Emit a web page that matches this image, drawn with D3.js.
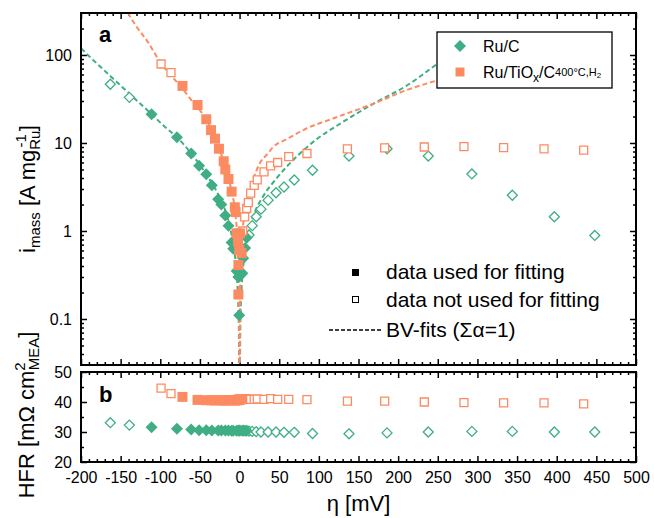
<!DOCTYPE html>
<html><head><meta charset="utf-8">
<script src="https://cdn.jsdelivr.net/npm/d3@7"></script>
<style>body{margin:0;background:#fff} svg{display:block} text{font-family:"Liberation Sans",Arial,sans-serif}</style>
</head><body><svg id="c" width="654" height="518"></svg>
<script>
// ---------- DATA ----------
const seriesNames = ["Ru/C", "Ru/TiOx/C"];
// Ru/C : data used for fitting
const etaRuCUsed = [-111,-79,-61,-51,-42,-35,-27,-23,-18,-14,-10,-8,-3.7,-1.6,-0.5,0.5,3.5,4.6,7,9];
const iRuCUsed   = [21.2,11.6,7.6,5.5,4.4,3.3,2.3,2.0,1.5,1.15,0.74,0.63,0.35,0.30,0.11,0.31,0.33,0.49,0.64,0.84];
const hfrRuCUsed = [31.6,31.1,30.8,30.6,30.6,30.5,30.5,30.5,30.5,30.5,30.4,30.4,30.4,30.5,30.4,30.5,30.4,30.5,30.4,30.4];
// Ru/C : data not used for fitting
const etaRuCOpen = [-163,-139,12,16,21,27,36,46,56,69,92,138,186,238,293,344,397,448];
const iRuCOpen   = [46.5,33,0.9,1.15,1.45,1.77,2.24,2.72,3.16,3.8,4.9,7.1,8.6,7.1,4.45,2.55,1.45,0.89];
const hfrRuCOpen = [33.1,32.3,30.3,30.2,30.1,30.0,30.0,30.0,29.9,29.9,29.5,29.4,29.7,30.0,30.2,30.2,30.0,30.0];
// Ru/TiOx/C : data used for fitting
const etaTiUsed = [-72,-53,-42,-36,-31,-26,-20,-18,-14,-10,-6,-5,-3.7,-2,-1.5,-1.5,-0.5,0.5,2.5];
const iTiUsed   = [44.5,27,18.6,14,11.2,8.6,6.2,5.0,3.9,2.8,1.86,1.64,0.94,0.76,0.41,0.19,0.61,0.94,0.56];
const hfrTiUsed = [41.7,40.7,40.6,40.6,40.5,40.6,40.5,40.5,40.6,40.6,40.5,40.6,40.6,40.7,40.8,40.6,40.7,40.9,40.9];
// Ru/TiOx/C : data not used for fitting
const etaTiOpen = [-99,-86.5,4,6.5,9,11,14,18.5,22.3,30.8,39.2,48,62,85,136,183,233,283,333,384,434];
const iTiOpen   = [79,63,1.0,1.45,1.8,2.1,2.7,3.3,3.8,4.7,5.5,6.0,7.0,7.6,8.55,8.8,9.0,9.1,8.85,8.55,8.3];
const hfrTiOpen = [44.6,42.8,41.0,41.0,41.0,40.9,40.9,40.9,41.0,40.9,41.1,40.9,40.9,40.8,40.3,40.3,40.0,39.8,39.7,39.7,39.4];
// BV fit curves
const etaFitRuC = [-200,-180,-162,-137,-112,-95,-79,-61,-50,-35,-25,-15,-10,-5,-2,-1,-0.3,0.3,1,2,5,10,20,30,47,72,97,127,169,211,248];
const iFitRuC   = [119,80,56.6,35,21.7,15.5,11.6,7.6,5.6,3.5,2.4,1.4,0.9,0.44,0.17,0.085,0.025,0.025,0.085,0.17,0.43,0.85,1.7,2.5,4.0,7.0,11,16.6,28,45,78];
const etaFitTi  = [-146,-130,-116,-99,-86,-74,-60,-44.5,-36,-26,-18,-10,-5,-2,-1,-0.1,0.1,1,2,4,7,10,17,26,34,43,59,85,118,169,211,248];
const iFitTi    = [360,210,142,80,58,43.6,30,20,14.5,8.8,5.4,2.8,1.5,0.6,0.3,0.028,0.028,0.28,0.55,1.05,1.65,2.3,3.8,6.0,7.3,9.1,11,14.7,19,28,40,51];
// ticks
const xTickValues = [-200,-150,-100,-50,0,50,100,150,200,250,300,350,400,450,500];
const xTickLabels = ["-200","-150","-100","-50","0","50","100","150","200","250","300","350","400","450","500"];
const yTopTickValues = [0.1,1,10,100];
const yTopTickLabels = ["0.1","1","10","100"];
const yBotTickValues = [20,30,40,50];
const yBotTickLabels = ["20","30","40","50"];

// ---------- STYLE ----------
const green = "#3fae84", orange = "#fd8b62";
const L = 81, R = 636, T1 = 13, B1 = 365, T2 = 372, B2 = 462;

const svg = d3.select("#c");
const x = d3.scaleLinear([-200, 500], [L, R]);
const yTop = d3.scaleLog([0.03, 300], [B1, T1]);
const yBot = d3.scaleLinear([20, 50], [B2, T2]);

const xMinor = d3.range(-200, 501, 10).filter(v => v % 50 !== 0);
const yTopMinor = [];
for (let k = -2; k <= 2; k++) for (let m = 2; m <= 9; m++) { const v = m * Math.pow(10, k); if (v > 0.03 && v < 300) yTopMinor.push(v); }
const yBotMinor = [25, 35, 45];

const diamond = { draw(ctx, size) { const r = Math.sqrt(size / 2); ctx.moveTo(0, -r); ctx.lineTo(r, 0); ctx.lineTo(0, r); ctx.lineTo(-r, 0); ctx.closePath(); } };

function styleAxis(g, fontSize) {
  g.select(".domain").remove();
  g.selectAll("line").attr("stroke", "#000").attr("stroke-width", 1.5);
  g.selectAll("text").attr("font-size", fontSize).attr("fill", "#000").attr("font-family", '"Liberation Sans",Arial,sans-serif');
}
function addAxis(axis, tx, ty, fs) {
  const g = svg.append("g").attr("transform", `translate(${tx},${ty})`).call(axis);
  styleAxis(g, fs || 16);
  return g;
}
// Top panel axes
addAxis(d3.axisLeft(yTop).tickValues(yTopTickValues).tickFormat((d, i) => yTopTickLabels[i]).tickSizeInner(-6).tickSizeOuter(0).tickPadding(9), L, 0);
addAxis(d3.axisLeft(yTop).tickValues(yTopMinor).tickFormat("").tickSizeInner(-3).tickSizeOuter(0), L, 0);
addAxis(d3.axisRight(yTop).tickValues(yTopTickValues).tickFormat("").tickSizeInner(-6).tickSizeOuter(0), R, 0);
addAxis(d3.axisRight(yTop).tickValues(yTopMinor).tickFormat("").tickSizeInner(-3).tickSizeOuter(0), R, 0);
addAxis(d3.axisTop(x).tickValues(xTickValues).tickFormat("").tickSizeInner(-6).tickSizeOuter(0), 0, T1);
addAxis(d3.axisTop(x).tickValues(xMinor).tickFormat("").tickSizeInner(-3).tickSizeOuter(0), 0, T1);
addAxis(d3.axisBottom(x).tickValues(xTickValues).tickFormat("").tickSizeInner(-6).tickSizeOuter(0), 0, B1);
addAxis(d3.axisBottom(x).tickValues(xMinor).tickFormat("").tickSizeInner(-3).tickSizeOuter(0), 0, B1);
// Bottom panel axes
addAxis(d3.axisLeft(yBot).tickValues(yBotTickValues).tickFormat((d, i) => yBotTickLabels[i]).tickSizeInner(-6).tickSizeOuter(0).tickPadding(9), L, 0);
addAxis(d3.axisLeft(yBot).tickValues(yBotMinor).tickFormat("").tickSizeInner(-3).tickSizeOuter(0), L, 0);
addAxis(d3.axisRight(yBot).tickValues(yBotTickValues).tickFormat("").tickSizeInner(-6).tickSizeOuter(0), R, 0);
addAxis(d3.axisRight(yBot).tickValues(yBotMinor).tickFormat("").tickSizeInner(-3).tickSizeOuter(0), R, 0);
addAxis(d3.axisTop(x).tickValues(xTickValues).tickFormat("").tickSizeInner(-6).tickSizeOuter(0), 0, T2);
addAxis(d3.axisTop(x).tickValues(xMinor).tickFormat("").tickSizeInner(-3).tickSizeOuter(0), 0, T2);
addAxis(d3.axisBottom(x).tickValues(xTickValues).tickFormat((d, i) => xTickLabels[i]).tickSizeInner(-6).tickSizeOuter(0).tickPadding(10), 0, B2);
addAxis(d3.axisBottom(x).tickValues(xMinor).tickFormat("").tickSizeInner(-3).tickSizeOuter(0), 0, B2);

// clip paths
const defs = svg.append("defs");
defs.append("clipPath").attr("id", "clipTop").append("rect").attr("x", L).attr("y", T1).attr("width", R - L).attr("height", B1 - T1);
defs.append("clipPath").attr("id", "clipBot").append("rect").attr("x", L).attr("y", T2).attr("width", R - L).attr("height", B2 - T2);

const gTop = svg.append("g").attr("clip-path", "url(#clipTop)");
const gBot = svg.append("g").attr("clip-path", "url(#clipBot)");

// fit lines
const lineTop = d3.line().x(d => x(d[0])).y(d => yTop(d[1])).curve(d3.curveMonotoneX);
gTop.append("path").datum(d3.zip(etaFitRuC, iFitRuC)).attr("d", lineTop)
  .attr("fill", "none").attr("stroke", green).attr("stroke-width", 2).attr("stroke-dasharray", "5,3");
gTop.append("path").datum(d3.zip(etaFitTi, iFitTi)).attr("d", lineTop)
  .attr("fill", "none").attr("stroke", orange).attr("stroke-width", 2).attr("stroke-dasharray", "5,3");

// markers
function markers(g, ys, etas, vals, type, size, color, filled) {
  g.append("g").selectAll("path").data(d3.zip(etas, vals)).join("path")
    .attr("transform", d => `translate(${x(d[0])},${ys(d[1])})`)
    .attr("d", d3.symbol().type(type).size(size))
    .attr("fill", filled ? color : "#fff")
    .attr("stroke", filled ? "none" : color)
    .attr("stroke-width", filled ? 0 : 1.3);
}
markers(gTop, yTop, etaRuCOpen, iRuCOpen, diamond, 50, green, false);
markers(gTop, yTop, etaRuCUsed, iRuCUsed, diamond, 72, green, true);
markers(gTop, yTop, etaTiOpen, iTiOpen, d3.symbolSquare, 64, orange, false);
markers(gTop, yTop, etaTiUsed, iTiUsed, d3.symbolSquare, 100, orange, true);
markers(gBot, yBot, etaRuCOpen, hfrRuCOpen, diamond, 50, green, false);
markers(gBot, yBot, etaRuCUsed, hfrRuCUsed, diamond, 72, green, true);
markers(gBot, yBot, etaTiOpen, hfrTiOpen, d3.symbolSquare, 64, orange, false);
markers(gBot, yBot, etaTiUsed, hfrTiUsed, d3.symbolSquare, 100, orange, true);

// frames
svg.append("rect").attr("x", L).attr("y", T1).attr("width", R - L).attr("height", B1 - T1).attr("fill", "none").attr("stroke", "#000").attr("stroke-width", 2);
svg.append("rect").attr("x", L).attr("y", T2).attr("width", R - L).attr("height", B2 - T2).attr("fill", "none").attr("stroke", "#000").attr("stroke-width", 2);

// panel labels
svg.append("text").attr("x", 99).attr("y", 42).attr("font-size", 22).attr("font-weight", "bold").text("a");
svg.append("text").attr("x", 99).attr("y", 402).attr("font-size", 22).attr("font-weight", "bold").text("b");

// legend 1
const lg = svg.append("g");
lg.append("rect").attr("x", 437).attr("y", 32).attr("width", 175).attr("height", 56).attr("fill", "#fff").attr("stroke", "#000").attr("stroke-width", 1.3);
lg.append("path").attr("transform", "translate(460,46)").attr("d", d3.symbol().type(diamond).size(72)).attr("fill", green);
lg.append("path").attr("transform", "translate(460,72)").attr("d", d3.symbol().type(d3.symbolSquare).size(81)).attr("fill", orange);
lg.append("text").attr("x", 483).attr("y", 52).attr("font-size", 16).text(seriesNames[0]);
const t2 = lg.append("text").attr("x", 483).attr("y", 78).attr("font-size", 16);
t2.append("tspan").text("Ru/TiO");
t2.append("tspan").attr("font-size", 12).attr("dy", 4).text("x");
t2.append("tspan").attr("dy", -4).text("/C");
t2.append("tspan").attr("font-size", 11).attr("dy", -2.5).text("400°C,H");
t2.append("tspan").attr("font-size", 8).attr("dy", 2.5).text("2");

// legend 2
svg.append("rect").attr("x", 352).attr("y", 269).attr("width", 7).attr("height", 7).attr("fill", "#000");
svg.append("rect").attr("x", 352.5).attr("y", 296.5).attr("width", 6).attr("height", 6).attr("fill", "#fff").attr("stroke", "#000").attr("stroke-width", 1);
svg.append("line").attr("x1", 329).attr("x2", 382).attr("y1", 330).attr("y2", 330).attr("stroke", "#000").attr("stroke-width", 1.5).attr("stroke-dasharray", "4,2");
svg.append("text").attr("x", 386).attr("y", 279).attr("font-size", 21).text("data used for fitting");
svg.append("text").attr("x", 386).attr("y", 307).attr("font-size", 21).text("data not used for fitting");
svg.append("text").attr("x", 386).attr("y", 337).attr("font-size", 21).text("BV-fits (\u03A3\u03B1=1)");

// axis titles
const yt1 = svg.append("text").attr("transform", "translate(35,189) rotate(-90)").attr("text-anchor", "middle").attr("font-size", 22);
yt1.append("tspan").text("i");
yt1.append("tspan").attr("font-size", 15).attr("dy", 5).text("mass");
yt1.append("tspan").attr("dy", -5).text(" [A mg");
yt1.append("tspan").attr("font-size", 15).attr("dy", 5).text("Ru");
yt1.append("tspan").attr("font-size", 15).attr("dx", -17).attr("dy", -14).text("-1");
yt1.append("tspan").attr("dy", 9).attr("dx", 3).text("]");

const yt2 = svg.append("text").attr("transform", "translate(34,415) rotate(-90)").attr("text-anchor", "middle").attr("font-size", 22);
yt2.append("tspan").text("HFR [m\u03A9 cm");
yt2.append("tspan").attr("font-size", 15).attr("dy", -9).text("2");
yt2.append("tspan").attr("font-size", 15).attr("dx", -8).attr("dy", 14).text("MEA");
yt2.append("tspan").attr("dy", -5).text("]");

svg.append("text").attr("x", (L + R) / 2).attr("y", 511).attr("text-anchor", "middle").attr("font-size", 22).text("\u03B7 [mV]");
</script></body></html>
